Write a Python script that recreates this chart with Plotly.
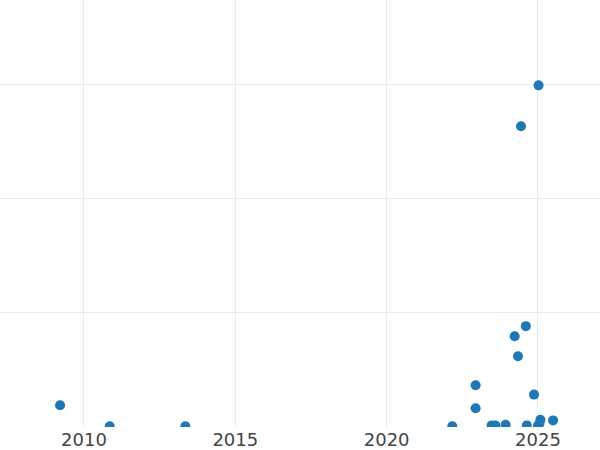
import plotly.graph_objects as go

years = [2009.21, 2010.85, 2013.35, 2022.17, 2022.94, 2022.94, 2023.47, 2023.59,
         2023.93, 2024.23, 2024.34, 2024.60, 2024.44, 2025.02, 2024.87, 2024.63,
         2025.08, 2025.05, 2025.00, 2025.50]
values = [9.5, 0.3, 0.3, 0.3, 18.3, 8.2, 0.7, 0.7,
          1.0, 39.8, 31.0, 44.2, 131.8, 149.7, 14.2, 0.7,
          3.2, 1.5, 0.5, 2.9]
x_ticks = [2010, 2015, 2020, 2025]
y_ticks = [0, 50, 100, 150]

fig = go.Figure(go.Scatter(
    x=years, y=values, mode="markers",
    marker=dict(color="#1f77b4", size=10),
))

fig.update_layout(
    width=600, height=450,
    margin=dict(l=0, r=0, t=0, b=23),
    plot_bgcolor="white", paper_bgcolor="white",
    showlegend=False,
    font=dict(family="DejaVu Sans", size=18, color="#444"),
    xaxis=dict(range=[2007.225, 2027.05], tickvals=x_ticks, ticktext=[str(t) for t in x_ticks],
               showgrid=True, gridcolor="#ebebeb", zeroline=False, showline=False, ticks=""),
    yaxis=dict(range=[0, 187.1], tickvals=y_ticks, showticklabels=False,
               showgrid=True, gridcolor="#ebebeb", zeroline=False, showline=False, ticks=""),
)

fig.write_html("out.html",
               config={"displayModeBar": False},
               post_script="document.body.style.margin='0';document.body.style.overflow='hidden';")
